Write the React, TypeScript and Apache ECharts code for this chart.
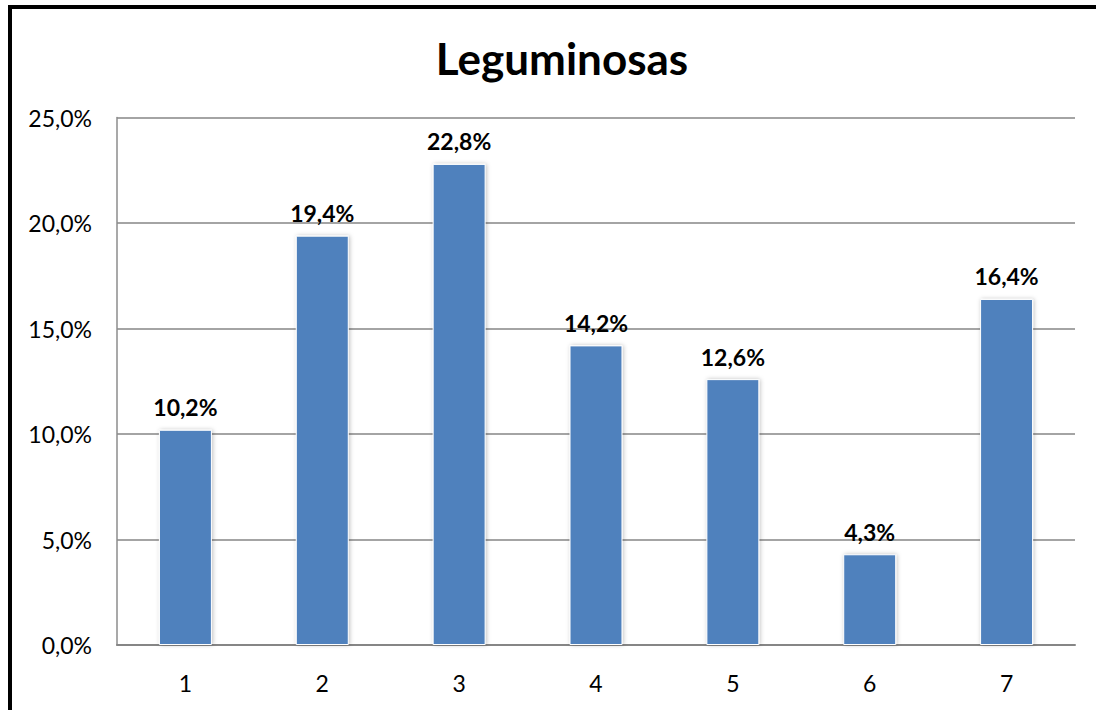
import React, { useEffect, useRef } from "react";
import * as echarts from "echarts";

const categories = ["1", "2", "3", "4", "5", "6", "7"];
const values = [10.2, 19.4, 22.8, 14.2, 12.6, 4.3, 16.4];
const yTicks = { min: 0, max: 25, interval: 5 };
const title = "Leguminosas";

const fmt = (v: number) => v.toFixed(1).replace(".", ",") + "%";
const FONT = "Lato, 'Noto Sans', sans-serif";

export default function App() {
  const ref = useRef<HTMLDivElement>(null);
  useEffect(() => {
    if (!ref.current) return;
    const chart = echarts.init(ref.current, undefined, { renderer: "svg" });
    chart.setOption({
      animation: false,
      backgroundColor: "#ffffff",
      title: {
        text: title,
        left: 557,
        textAlign: "center",
        top: 31,
        textStyle: { fontFamily: FONT, fontWeight: "bold", fontSize: 44, color: "#000" },
      },
      graphic: [
        {
          type: "line",
          shape: { x1: 10, y1: 5, x2: 10, y2: 710 },
          style: { stroke: "#000", lineWidth: 4 },
          z: 100,
        },
        {
          type: "line",
          shape: { x1: 8, y1: 7, x2: 1096, y2: 7 },
          style: { stroke: "#000", lineWidth: 4 },
          z: 100,
        },
      ],
      grid: { left: 117, right: 21, top: 117.5, bottom: 65, containLabel: false },
      xAxis: {
        type: "category",
        data: categories,
        axisLine: { show: true, lineStyle: { color: "#868686", width: 2 } },
        axisTick: { show: false },
        axisLabel: { fontFamily: FONT, fontSize: 23, color: "#000", margin: 26 },
      },
      yAxis: {
        type: "value",
        min: yTicks.min,
        max: yTicks.max,
        interval: yTicks.interval,
        axisLine: { show: true, lineStyle: { color: "#8c8c8c", width: 1.5 } },
        axisTick: { show: false },
        splitLine: { lineStyle: { color: "#868686", width: 1.5 } },
        axisLabel: {
          fontFamily: FONT,
          fontSize: 23,
          color: "#000",
          margin: 25,
          formatter: (v: number) => fmt(v),
        },
      },
      series: [
        {
          type: "bar",
          data: values,
          barWidth: "38.7%",
          itemStyle: {
            color: "#4F81BD",
            borderColor: "#ffffff",
            borderWidth: 1,
            shadowBlur: 4,
            shadowColor: "rgba(0,0,0,0.25)",
            shadowOffsetX: 1,
          },
          label: {
            show: true,
            position: "top",
            distance: 11,
            fontFamily: FONT,
            fontWeight: "bold",
            fontSize: 23,
            color: "#000",
            formatter: (p: any) => fmt(p.value),
          },
        },
      ],
    });
    return () => chart.dispose();
  }, []);
  return (
    <div
      ref={ref}
      style={{ position: "fixed", left: 0, top: 0, width: 1096, height: 710 }}
    />
  );
}
